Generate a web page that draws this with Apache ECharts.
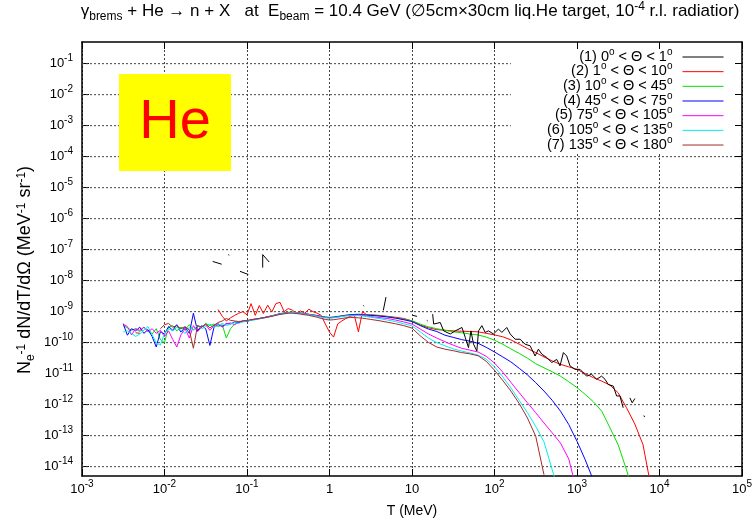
<!DOCTYPE html>
<html>
<head>
<meta charset="utf-8">
<script src="https://cdn.jsdelivr.net/npm/echarts@6/dist/echarts.min.js"></script>
<style>html,body{margin:0;padding:0;background:#fff}#c{width:756px;height:522px}</style>
</head>
<body>
<div id="c"></div>
<script>
// ---------------- DATA ----------------
const SERIES_NAMES = [
  '(1) 0° < Θ < 1°', '(2) 1° < Θ < 10°', '(3) 10° < Θ < 45°', '(4) 45° < Θ < 75°',
  '(5) 75° < Θ < 105°', '(6) 105° < Θ < 135°', '(7) 135° < Θ < 180°'
];

// kinetic energy T (MeV) shared by series (2)-(7)
const T_GRID = [
  0.00316, 0.00355, 0.00398, 0.00447, 0.00501, 0.00562, 0.00631, 0.00708, 0.00794, 0.00891,
  0.0100, 0.0112, 0.0126, 0.0141, 0.0158, 0.0178, 0.0200, 0.0224, 0.0251, 0.0282,
  0.0316, 0.0355, 0.0398, 0.0447, 0.0501, 0.0562, 0.0631, 0.0708, 0.0794, 0.0891,
  0.100, 0.112, 0.126, 0.141, 0.158, 0.178, 0.200, 0.224, 0.251, 0.282,
  0.316, 0.355, 0.398, 0.447, 0.501, 0.562, 0.631, 0.708, 0.794, 0.891,
  1.00, 1.12, 1.26, 1.41, 1.58, 1.78, 2.00, 2.24, 2.51, 2.82,
  3.16,
  3.98, 5.01, 6.31, 7.94, 10.0, 12.6, 15.8, 20.0, 25.1, 31.6,
  39.8, 50.1, 63.1, 79.4, 100, 126, 158, 200, 251, 316,
  398, 501, 631, 794, 1000, 1259, 1585, 1995, 2512, 3162,
  3981, 5012, 6310, 7943
];

const RED_V = [
  null, null, null, null, null, null, null, null, null, null,
  null, null, null, null, null, null, null, null, null, null,
  null, null, null, 1.17e-9, 7.08e-10, 5.01e-10, 6.31e-10, 7.59e-10, 8.91e-10, 1.00e-9,
  7.94e-10, 1.82e-9, 7.59e-10, 1.58e-9, 8.71e-10, 1.62e-9, 9.77e-10, 1.82e-9, 2.00e-9, 1.00e-9,
  1.26e-9, 1.12e-9, 8.71e-10, 1.05e-9, 8.91e-10, 1.20e-9, 1.00e-9, 8.91e-10, 7.59e-10, 3.98e-10,
  2.19e-10, 1.51e-10, 4.07e-10, 5.01e-10, 6.03e-10, 7.08e-10, 7.59e-10, 2.24e-10, 1.00e-9, 7.94e-10,
  7.94e-10,
  7.59e-10, 7.08e-10, 6.61e-10, 6.03e-10, 5.01e-10, 3.72e-10, 3.02e-10, 2.63e-10, 2.51e-10, 2.40e-10,
  2.34e-10, 2.29e-10, 2.24e-10, 2.00e-10, 1.78e-10, 1.55e-10, 1.23e-10, 8.91e-11, 6.46e-11, 4.79e-11,
  3.47e-11, 2.57e-11, 2.00e-11, 1.66e-11, 1.38e-11, 1.00e-11, 7.41e-12, 5.75e-12, 4.27e-12, 2.40e-12,
  7.94e-13, 2.40e-13, 5.13e-14, 2.00e-15
];

const GREEN_V = [
  3.55e-10, 3.02e-10, 2.51e-10, 2.82e-10, 2.24e-10, 3.16e-10, 2.51e-10, 1.91e-10, 2.82e-10, 1.26e-10,
  1.00e-10, 3.16e-10, 3.55e-10, 2.40e-10, 3.16e-10, 2.63e-10, 3.80e-10, 2.51e-10, 3.55e-10, 3.16e-10,
  4.17e-10, 3.55e-10, 3.98e-10, 3.31e-10, 3.80e-10, 1.41e-10, 2.82e-10, 3.98e-10, 4.47e-10, 4.68e-10,
  5.01e-10, 5.25e-10, 5.62e-10, 6.03e-10, 6.46e-10, 6.76e-10, 7.41e-10, 7.94e-10, 8.71e-10, 9.12e-10,
  9.55e-10, 9.77e-10, 9.33e-10, 9.12e-10, 8.71e-10, 8.32e-10, 7.94e-10, 7.59e-10, 7.08e-10, 6.76e-10,
  6.61e-10, 6.76e-10, 7.08e-10, 7.41e-10, 7.76e-10, 7.94e-10, 8.13e-10, 8.32e-10, 8.13e-10, 7.94e-10,
  7.76e-10,
  7.41e-10, 6.92e-10, 6.31e-10, 5.62e-10, 5.13e-10, 3.98e-10, 3.24e-10, 2.82e-10, 2.51e-10, 2.24e-10,
  2.09e-10, 1.91e-10, 1.78e-10, 1.51e-10, 1.20e-10, 8.91e-11, 6.31e-11, 4.47e-11, 3.16e-11, 2.09e-11,
  1.55e-11, 1.15e-11, 8.32e-12, 5.50e-12, 3.55e-12, 2.14e-12, 1.23e-12, 6.17e-13, 1.78e-13, 5.01e-14,
  7.94e-15, 1.00e-15, null, null
];

const BLUE_V = [
  4.07e-10, 1.74e-10, 2.82e-10, 2.40e-10, 3.16e-10, 2.00e-10, 2.63e-10, 1.58e-10, 7.24e-11, 2.24e-10,
  1.91e-10, 3.31e-10, 2.51e-10, 3.80e-10, 2.19e-10, 3.16e-10, 2.00e-10, 8.91e-10, 2.40e-10, 3.55e-10,
  2.82e-10, 8.13e-11, 3.16e-10, 3.80e-10, 3.31e-10, 4.17e-10, 3.98e-10, 4.68e-10, 4.37e-10, 5.01e-10,
  4.79e-10, 5.50e-10, 5.75e-10, 6.03e-10, 6.31e-10, 6.92e-10, 7.24e-10, 7.94e-10, 8.51e-10, 8.91e-10,
  9.33e-10, 9.55e-10, 9.12e-10, 8.91e-10, 8.51e-10, 8.13e-10, 7.76e-10, 7.41e-10, 6.92e-10, 6.61e-10,
  6.46e-10, 6.61e-10, 6.92e-10, 7.24e-10, 7.59e-10, 7.94e-10, 8.13e-10, 8.13e-10, 7.94e-10, 7.76e-10,
  7.59e-10,
  7.24e-10, 6.76e-10, 6.17e-10, 5.50e-10, 4.79e-10, 3.55e-10, 2.75e-10, 2.29e-10, 1.74e-10, 1.48e-10,
  1.26e-10, 1.12e-10, 9.55e-11, 7.08e-11, 5.01e-11, 3.47e-11, 2.40e-11, 1.48e-11, 9.12e-12, 5.13e-12,
  2.75e-12, 1.38e-12, 6.17e-13, 2.29e-13, 6.61e-14, 1.66e-14, 3.55e-15, null, null, null,
  null, null, null, null
];

const MAGENTA_V = [
  3.98e-10, 3.31e-10, 1.78e-10, 2.82e-10, 2.51e-10, 3.16e-10, 2.24e-10, 2.82e-10, 2.00e-10, 2.51e-10,
  1.58e-10, 2.40e-10, 1.26e-10, 7.24e-11, 1.78e-10, 2.82e-10, 1.41e-10, 3.55e-10, 2.24e-10, 3.16e-10,
  3.80e-10, 2.51e-10, 3.55e-10, 4.17e-10, 3.16e-10, 3.98e-10, 4.37e-10, 3.80e-10, 4.57e-10, 5.01e-10,
  5.01e-10, 5.37e-10, 5.75e-10, 5.89e-10, 6.31e-10, 6.76e-10, 7.41e-10, 7.76e-10, 8.51e-10, 8.91e-10,
  9.33e-10, 9.55e-10, 9.12e-10, 8.91e-10, 8.51e-10, 8.13e-10, 7.76e-10, 7.41e-10, 6.92e-10, 6.46e-10,
  6.31e-10, 6.46e-10, 6.76e-10, 7.08e-10, 7.41e-10, 7.59e-10, 7.76e-10, 7.76e-10, 7.59e-10, 7.24e-10,
  6.92e-10,
  6.46e-10, 6.03e-10, 5.37e-10, 4.68e-10, 3.98e-10, 2.75e-10, 1.91e-10, 1.41e-10, 1.07e-10, 8.32e-11,
  6.61e-11, 5.75e-11, 5.01e-11, 3.63e-11, 2.19e-11, 1.12e-11, 5.25e-12, 2.40e-12, 1.15e-12, 5.50e-13,
  2.57e-13, 1.23e-13, 5.75e-14, 1.78e-14, 1.58e-15, null, null, null, null, null,
  null, null, null, null
];

const CYAN_V = [
  2.19e-10, 2.40e-10, 2.00e-10, 1.58e-10, 1.91e-10, 2.51e-10, 3.31e-10, 1.78e-10, 1.00e-10, 8.32e-11,
  2.00e-10, 2.82e-10, 2.40e-10, 3.16e-10, 2.51e-10, 2.00e-10, 3.16e-10, 2.63e-10, 3.55e-10, 2.82e-10,
  3.31e-10, 3.98e-10, 3.16e-10, 3.63e-10, 4.17e-10, 3.55e-10, 3.98e-10, 4.47e-10, 4.17e-10, 4.79e-10,
  5.01e-10, 5.25e-10, 5.50e-10, 5.89e-10, 6.17e-10, 6.61e-10, 7.24e-10, 7.76e-10, 8.32e-10, 8.71e-10,
  9.12e-10, 9.33e-10, 9.12e-10, 8.71e-10, 8.32e-10, 7.94e-10, 7.59e-10, 7.08e-10, 6.61e-10, 6.31e-10,
  6.17e-10, 6.31e-10, 6.61e-10, 6.92e-10, 7.24e-10, 7.41e-10, 7.41e-10, 7.41e-10, 7.24e-10, 6.92e-10,
  6.61e-10,
  6.03e-10, 5.37e-10, 4.79e-10, 4.07e-10, 3.47e-10, 2.24e-10, 1.41e-10, 1.00e-10, 7.94e-11, 6.31e-11,
  5.37e-11, 4.68e-11, 3.98e-11, 2.95e-11, 1.66e-11, 7.94e-12, 3.47e-12, 1.35e-12, 5.50e-13, 2.00e-13,
  6.31e-14, 7.94e-15, 1.00e-15, null, null, null, null, null, null, null,
  null, null, null, null
];

const BROWN_V = [
  null, null, null, 2.09e-10, 2.00e-10, null, null, null, null, 2.82e-10,
  3.80e-10, 4.17e-10, 3.16e-10, 3.55e-10, 2.82e-10, 3.31e-10, 2.51e-10, 6.61e-11, 3.55e-10, 3.16e-10,
  3.98e-10, 3.02e-10, 3.63e-10, 4.47e-10, 5.01e-10, 6.03e-10, 5.25e-10, 5.01e-10, 4.79e-10, 5.01e-10,
  5.25e-10, 5.50e-10, 5.75e-10, 6.03e-10, 6.31e-10, 6.61e-10, 7.08e-10, 7.59e-10, 8.13e-10, 8.51e-10,
  8.91e-10, 8.91e-10, 8.71e-10, 8.32e-10, 7.94e-10, 7.59e-10, 7.08e-10, 6.61e-10, 6.03e-10, 5.62e-10,
  5.37e-10, 5.50e-10, 5.75e-10, 6.03e-10, 6.31e-10, 6.46e-10, 6.46e-10, 6.31e-10, 6.17e-10, 5.89e-10,
  5.62e-10,
  5.13e-10, 4.57e-10, 4.07e-10, 3.55e-10, 2.95e-10, 1.66e-10, 1.02e-10, 7.24e-11, 6.17e-11, 5.50e-11,
  4.79e-11, 4.37e-11, 3.80e-11, 2.51e-11, 1.29e-11, 6.03e-12, 2.75e-12, 1.07e-12, 3.72e-13, 9.55e-14,
  5.50e-15, null, null, null, null, null, null, null, null, null,
  null, null, null, null
];

// series (1) has sparse statistics: own T points, null = gap
const BLACK_T = [
  0.0384, 0.0493, 0.054, 0.0593, 0.0610, 0.070, 0.0822, 0.1038, 0.130, 0.155,
  0.155, 0.186, 1.00, 2.57, 2.63, 3.50, 4.49, 4.84, 7.00, 10.2,
  11.5, 13.0, 15.1, 15.5, 17.0, 17.8, 18.3, 22.0, 24.2, 29.1,
  33.4, 40.3, 44.2, 48.4, 51.8, 55.7, 61.1, 64.0, 70.3, 77.1,
  84.5, 97.3, 111.7, 122.7, 140.9, 154.9, 177.8, 204.2, 235.0, 269.8,
  310.5, 340.4, 374.1, 429.5, 494.3, 567.5, 622.3, 683.9, 749.9, 822.2,
  946.2, 1086, 1309, 1503, 1730, 1986, 2183, 2393, 2754, 3020,
  3311, 3631, 4000, 4375, 4667, 5035, 6000, 6457, 6607
];
const BLACK_V = [
  4.17e-8, 3.39e-8, null, 6.92e-8, 6.61e-8, null, 2.00e-8, 1.58e-8, null, 2.63e-8,
  6.92e-8, 3.98e-8, null, 1.58e-9, 1.51e-9, null, 1.10e-9, 2.95e-9, null, 7.59e-10,
  7.08e-10, null, 5.25e-10, 5.01e-10, null, 8.32e-10, 3.98e-10, 4.47e-10, 2.40e-10, 1.91e-10,
  2.40e-10, 3.09e-10, 1.48e-10, 6.92e-11, 2.40e-10, 8.91e-11, 5.37e-11, 2.40e-10, 3.55e-10, 2.14e-10,
  2.40e-10, 1.91e-10, 2.75e-10, 2.14e-10, 3.09e-10, 1.91e-10, 1.29e-10, 1.29e-10, 8.91e-11, 7.94e-11,
  3.72e-11, 6.17e-11, 4.27e-11, 3.31e-11, 2.29e-11, 2.88e-11, 1.78e-11, 4.79e-11, 3.72e-11, 1.78e-11,
  1.38e-11, 1.38e-11, 8.32e-12, 9.55e-12, 6.61e-12, 8.32e-12, 6.61e-12, 4.47e-12, 3.98e-12, 1.91e-12,
  1.91e-12, 7.94e-13, null, 1.66e-12, 1.15e-12, 1.58e-12, null, 4.47e-13, 3.98e-13
];

// decade tick values of the two axes
const X_TICKS = [1e-3, 1e-2, 1e-1, 1, 10, 1e2, 1e3, 1e4, 1e5];
const Y_TICKS = [1e-14, 1e-13, 1e-12, 1e-11, 1e-10, 1e-9, 1e-8, 1e-7, 1e-6, 1e-5, 1e-4, 1e-3, 1e-2, 1e-1];

// ---------------- STYLE ----------------
const FONT = "'Liberation Sans', 'DejaVu Sans', Arial, sans-serif";
const COLORS = ['#000000', '#ff0000', '#00e000', '#0000ff', '#ff00ff', '#00eeee', '#a52a2a'];
const GRID_LINE = {color: '#444', width: 1, type: [2, 2]};

function pow10Label(v) {
  const l = Math.log10(v);
  const e = Math.round(l);
  if (Math.abs(l - e) > 1e-6) return '';
  if (e === 0) return '{b|1}';
  if (e === 1) return '{b|10}';
  return '{b|10}{e|' + e + '}';
}
const LBL_RICH = {
  b: {fontSize: 13, lineHeight: 13, padding: [3.5, 0, 0, 0], verticalAlign: 'bottom', color: '#000', fontFamily: FONT},
  e: {fontSize: 10, lineHeight: 10, padding: [0, 0, 6.5, 0], verticalAlign: 'bottom', color: '#000', fontFamily: FONT}
};

function legendFmt(name) {
  const parts = name.split('°');
  let s = '';
  parts.forEach((p, i) => {
    if (p) s += '{t|' + p + '}';
    if (i < parts.length - 1) s += '{o|o}';
  });
  return s + '{g| }';
}

const toPairs = (xs, ys) => xs.map((x, i) => [x, ys[i] == null ? '-' : ys[i]]);
const VALUE_SETS = [null, RED_V, GREEN_V, BLUE_V, MAGENTA_V, CYAN_V, BROWN_V];

const series = SERIES_NAMES.map((name, i) => ({
  name: name,
  type: 'line',
  xAxisIndex: 0,
  yAxisIndex: 0,
  data: i === 0 ? toPairs(BLACK_T, BLACK_V) : toPairs(T_GRID, VALUE_SETS[i]),
  symbol: 'none',
  showSymbol: false,
  connectNulls: false,
  clip: true,
  silent: true,
  z: i === 0 ? 4 : 3,
  lineStyle: {width: 1, color: COLORS[i]},
  itemStyle: {color: COLORS[i]},
  emphasis: {disabled: true}
}));

// horizontal dotted decade grid lines, spanning the x range, positioned by the axes' scales
const X_RANGE = [X_TICKS[0], X_TICKS[X_TICKS.length - 1]];
const gridData = [];
Y_TICKS.forEach(v => {
  gridData.push([X_RANGE[0], v], [X_RANGE[1], v], [X_RANGE[1], '-']);
});
series.push({
  name: 'grid-y',
  type: 'line',
  xAxisIndex: 0,
  yAxisIndex: 0,
  data: gridData,
  symbol: 'none',
  showSymbol: false,
  connectNulls: false,
  silent: true,
  z: 1,
  lineStyle: GRID_LINE,
  emphasis: {disabled: true}
});

const axisLineStyle = {show: true, onZero: false, lineStyle: {color: '#000', width: 1.5}};
function tickStyle(vals) {
  return {show: true, inside: true, length: 7, interval: 0, customValues: vals, lineStyle: {color: '#000', width: 1}};
}

const option = {
  animation: false,
  backgroundColor: '#fff',
  title: {
    text: '{n|γ}{s|brems}{n| + He → n + X   at  E}{s|beam}{n| = 10.4 GeV (∅5cm×30cm liq.He target, 10}{p|-4}{n| r.l. radiatior)}',
    left: 410, top: 1, textAlign: 'center', padding: 0,
    textStyle: {
      fontWeight: 'normal',
      rich: {
        n: {fontSize: 17, lineHeight: 17, fontWeight: 'normal', padding: [2, 0, 0, 0], verticalAlign: 'top', color: '#000', fontFamily: FONT},
        s: {fontSize: 12, lineHeight: 12, fontWeight: 'normal', padding: [10, 0, 0, 0], verticalAlign: 'top', color: '#000', fontFamily: FONT},
        p: {fontSize: 12, lineHeight: 12, fontWeight: 'normal', verticalAlign: 'top', color: '#000', fontFamily: FONT}
      }
    }
  },
  legend: {
    orient: 'vertical', right: 15, top: 42, align: 'right',
    itemWidth: 41, itemHeight: 14, itemGap: -2.33,
    padding: [5, 17, 2, 36],
    backgroundColor: '#ffffff',
    selectedMode: false,
    data: SERIES_NAMES,
    formatter: legendFmt,
    itemStyle: {opacity: 0, borderWidth: 0},
    lineStyle: {width: 1},
    textStyle: {
      color: '#000',
      rich: {
        t: {fontSize: 14.5, lineHeight: 14, verticalAlign: 'bottom', color: '#000', fontFamily: FONT},
        o: {fontSize: 10, lineHeight: 10, padding: [0, 0, 7, 0], verticalAlign: 'bottom', color: '#000', fontFamily: FONT},
        g: {fontSize: 14, lineHeight: 14, width: 5, verticalAlign: 'bottom', fontFamily: FONT}
      }
    }
  },
  grid: {left: 82, right: 14, top: 42, bottom: 46, containLabel: false, outerBoundsMode: 'none'},
  xAxis: [
    {
      type: 'log', logBase: 10, min: 1e-3, max: 1e5, splitNumber: 8, position: 'bottom',
      axisLine: axisLineStyle, axisTick: tickStyle(X_TICKS),
      splitLine: {show: true, lineStyle: GRID_LINE},
      minorTick: {show: false}, minorSplitLine: {show: false},
      axisLabel: {show: true, margin: 7, customValues: X_TICKS, formatter: pow10Label, rich: LBL_RICH},
      name: 'T (MeV)', nameLocation: 'middle', nameGap: 28, nameMoveOverlap: false,
      nameTextStyle: {fontSize: 14, color: '#000', fontFamily: FONT}
    },
    {
      type: 'log', logBase: 10, min: 1e-3, max: 1e5, splitNumber: 8, position: 'top', z: 10,
      axisLine: axisLineStyle, axisTick: tickStyle(X_TICKS), splitLine: {show: false},
      axisLabel: {show: false}, minorTick: {show: false}
    }
  ],
  yAxis: [
    {
      type: 'log', logBase: 10, min: 5e-15, max: 0.5, position: 'left',
      axisLine: axisLineStyle, axisTick: tickStyle(Y_TICKS), splitLine: {show: false},
      minorTick: {show: false}, minorSplitLine: {show: false},
      axisLabel: {show: true, margin: 9, customValues: Y_TICKS, formatter: pow10Label, rich: LBL_RICH},
      name: '{b|N}{s|e}{p|-1}{b| dN/dT/dΩ (MeV}{p|-1}{b| sr}{p|-1}{b|)}',
      nameLocation: 'middle', nameRotate: 90, nameGap: 45, nameMoveOverlap: false,
      nameTextStyle: {
        padding: [0, 22, 0, 0],
        rich: {
          b: {fontSize: 18, lineHeight: 18, padding: [0, 0, 3, 0], verticalAlign: 'bottom', color: '#000', fontFamily: FONT},
          s: {fontSize: 12, lineHeight: 12, verticalAlign: 'bottom', color: '#000', fontFamily: FONT},
          p: {fontSize: 12, lineHeight: 12, padding: [0, 0, 9, 0], verticalAlign: 'bottom', color: '#000', fontFamily: FONT}
        }
      }
    },
    {
      type: 'log', logBase: 10, min: 5e-15, max: 0.5, position: 'right', z: 10,
      axisLine: axisLineStyle, axisTick: tickStyle(Y_TICKS), splitLine: {show: false},
      axisLabel: {show: false}, minorTick: {show: false}
    }
  ],
  graphic: [
    {type: 'rect', x: 119, y: 74, z: 50, shape: {width: 112, height: 97}, style: {fill: '#ffff00'}},
    {type: 'text', x: 175, y: 123, z: 51,
     style: {text: 'He', fill: '#ff0000', fontSize: 56, fontFamily: FONT, align: 'center', verticalAlign: 'middle'}}
  ],
  series: series
};

const chart = echarts.init(document.getElementById('c'), null, {renderer: 'canvas'});
chart.setOption(option);
</script>
</body>
</html>
